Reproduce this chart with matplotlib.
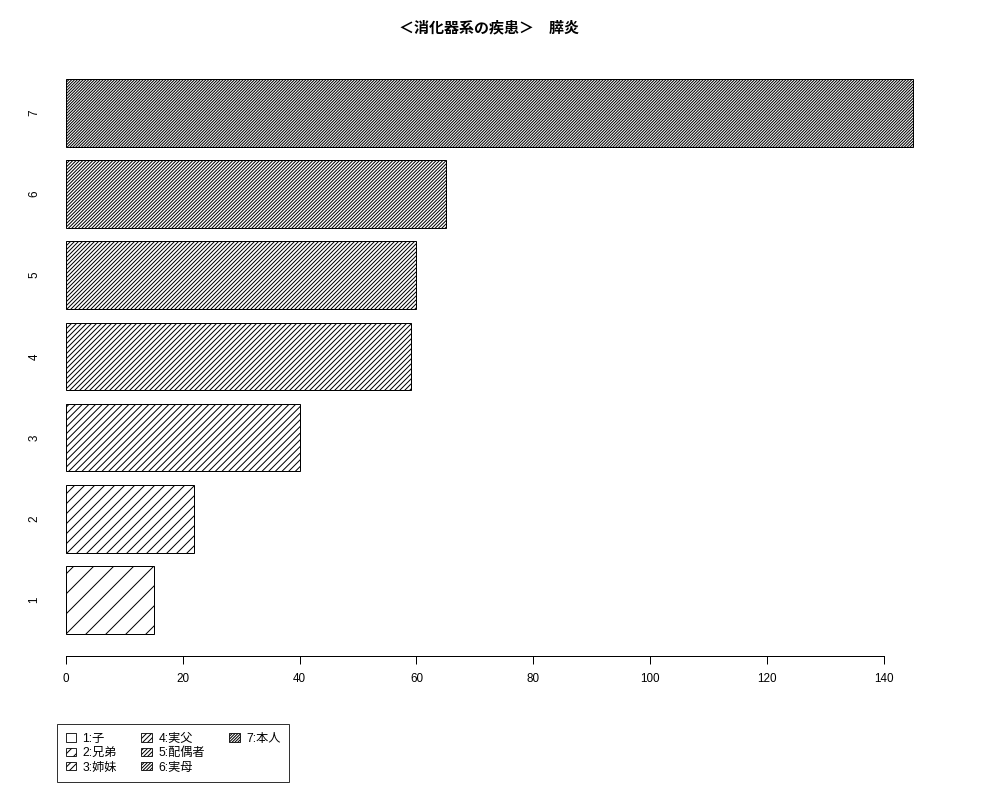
import matplotlib
matplotlib.use("Agg")
import matplotlib.pyplot as plt
from matplotlib.patches import Patch

plt.rcParams['font.family'] = ['Liberation Sans', 'Noto Sans CJK JP', 'DejaVu Sans']
plt.rcParams['hatch.linewidth'] = 0.6

# データ
categories = ['1', '2', '3', '4', '5', '6', '7']
values = [15, 22, 40, 59, 60, 65, 145]
legend_labels = ['1:子', '2:兄弟', '3:姉妹', '4:実父', '5:配偶者', '6:実母', '7:本人']
x_ticks = [0, 20, 40, 60, 80, 100, 120, 140]
title = '＜消化器系の疾患＞　膵炎'

# R の barplot 風 (space=0.2, density が段々濃くなる)
hatches = ['/' * (2 * (i + 1)) for i in range(len(values))]
centers = [0.7 + 1.2 * i for i in range(len(values))]

fig = plt.figure(figsize=(1000 / 120, 800 / 120), dpi=120)
ax = fig.add_axes([0.032, 0.18, 0.915, 0.749])

for c, v, h in zip(centers, values, hatches):
    ax.barh(c, v, height=1.0, color='white', edgecolor='black', linewidth=0.6, hatch=h)

ax.set_xlim(-5.8, 150.8)
ax.set_ylim(-0.128, 8.728)

for s in ['top', 'right', 'left']:
    ax.spines[s].set_visible(False)
ax.spines['bottom'].set_bounds(0, 140)
ax.spines['bottom'].set_linewidth(0.6)
ax.set_xticks(x_ticks)
ax.tick_params(axis='x', length=4.5, width=0.6, labelsize=7, pad=6)
ax.set_yticks(centers)
ax.set_yticklabels(categories, rotation=90, va='center')
ax.tick_params(axis='y', length=0, labelsize=7, pad=-5)

fig.text(0.489, 0.965, title, ha='center', va='center', fontsize=9, fontweight='bold')

# 列ごとに 1-3 / 4-6 / 7 と並べるため空欄を足す
handles = [Patch(facecolor='white', edgecolor='black', linewidth=0.5, hatch=h) for h in hatches]
blank = Patch(visible=False)
handles = handles + [blank, blank]
labels = legend_labels + ['', '']
leg = fig.legend(handles, labels, loc='lower left', bbox_to_anchor=(0.057, 0.0225),
                 ncol=3, fontsize=7.3, frameon=True, fancybox=False, edgecolor='black',
                 handlelength=0.9, handleheight=0.7, handletextpad=0.5, columnspacing=2.0,
                 labelspacing=0.2, borderpad=0.7, borderaxespad=0)
leg.get_frame().set_linewidth(0.6)

fig.savefig('out.png', dpi=120)
